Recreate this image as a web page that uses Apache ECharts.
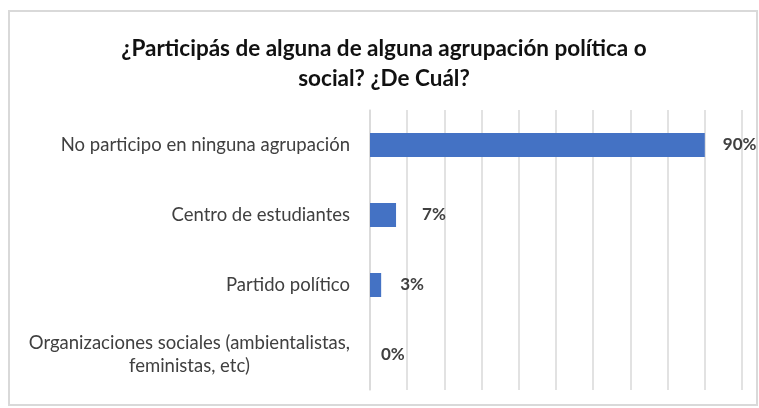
<!DOCTYPE html>
<html>
<head>
<meta charset="utf-8">
<script src="https://cdn.jsdelivr.net/npm/echarts@6/dist/echarts.min.js"></script>
<style>
  html, body { margin: 0; padding: 0; background: #ffffff; }
  #chart { width: 759px; height: 408px; }
</style>
</head>
<body>
<div id="chart"></div>
<script>
// Survey answers and their shares (percent)
const categories = [
  'No participo en ninguna agrupación',
  'Centro de estudiantes',
  'Partido político',
  'Organizaciones sociales (ambientalistas,\nfeministas, etc)'
];
const shares = [90, 7, 3, 0];
const titleText = '¿Participás de alguna de alguna agrupación política o\nsocial? ¿De Cuál?';

// gap between each bar end and its value label
const labelGaps = [18, 26, 19, 11];

const chart = echarts.init(document.getElementById('chart'));

chart.setOption({
  backgroundColor: '#ffffff',
  animation: false,
  graphic: [{
    type: 'rect',
    shape: { x: 9, y: 11, width: 748, height: 394 },
    style: { fill: 'none', stroke: '#d9d9d9', lineWidth: 2 },
    silent: true
  }],
  title: {
    text: titleText,
    left: 379,
    top: 29,
    textAlign: 'center',
    textStyle: {
      fontFamily: 'Lato',
      fontWeight: 'bold',
      fontSize: 22.5,
      lineHeight: 30,
      color: '#111111'
    }
  },
  grid: { left: 370, right: 17, top: 110, bottom: 18 },
  xAxis: {
    type: 'value',
    min: 0,
    max: 100,
    interval: 10,
    axisLabel: { show: false },
    axisTick: { show: false },
    axisLine: { show: false },
    splitLine: { show: true, lineStyle: { color: '#d9d9d9', width: 1.5 } }
  },
  yAxis: {
    type: 'category',
    inverse: true,
    data: categories,
    axisTick: { show: false },
    axisLine: { show: true, lineStyle: { color: '#d9d9d9', width: 1.5 } },
    axisLabel: {
      margin: 20,
      fontFamily: 'Lato',
      fontSize: 18.5,
      color: '#404040',
      lineHeight: 23,
      formatter: v => v.split('\n').map(s => '{c|' + s + '}').join('\n'),
      rich: { c: { align: 'center', fontFamily: 'Lato', fontSize: 18.5, color: '#404040', lineHeight: 23 } }
    }
  },
  series: [{
    type: 'bar',
    data: shares.map((v, i) => ({ value: v, label: { distance: labelGaps[i] } })),
    barWidth: 24,
    itemStyle: { color: '#4472c4' },
    label: {
      show: true,
      position: 'right',
      formatter: p => p.value + '%',
      fontFamily: 'Lato',
      fontWeight: 'bold',
      fontSize: 17,
      color: '#404040'
    }
  }]
});
</script>
</body>
</html>
